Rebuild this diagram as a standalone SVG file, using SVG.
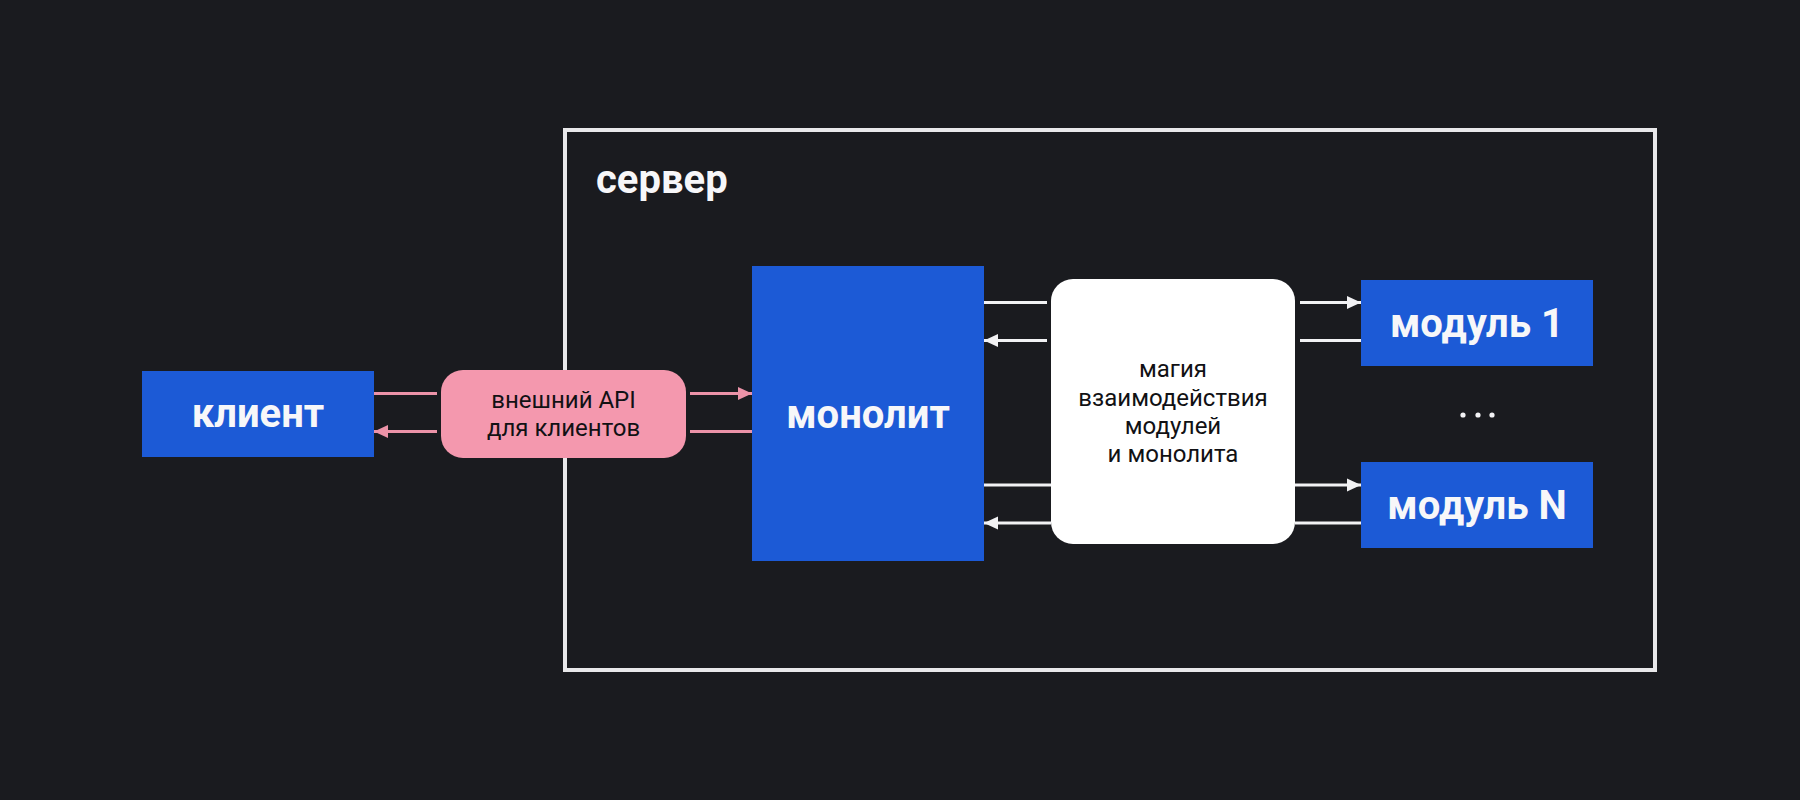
<svg xmlns="http://www.w3.org/2000/svg" width="1800" height="800" viewBox="0 0 1800 800">
  <style>
    .bg { fill: #1a1b1f; }
    .blue { fill: #1c5ad6; }
    .lbl-bold { font-family: Roboto, "Liberation Sans", sans-serif; font-weight: 700; font-size: 40px; fill: #f7f7f9; text-anchor: middle; }
    .lbl-reg { font-family: Roboto, "Liberation Sans", sans-serif; font-weight: 400; font-size: 24px; fill: #111114; text-anchor: middle; }
    .wline { stroke: #f2f2f4; stroke-width: 3; fill: none; }
    .pline { stroke: #ec93a8; stroke-width: 3; fill: none; }
  </style>
  <defs>
    <marker id="aw" markerUnits="userSpaceOnUse" markerWidth="16" markerHeight="16" viewBox="0 0 16 16" refX="14" refY="8" orient="auto">
      <path d="M0,1.5 L14,8 L0,14.5 Z" fill="#f2f2f4"/>
    </marker>
    <marker id="ap" markerUnits="userSpaceOnUse" markerWidth="16" markerHeight="16" viewBox="0 0 16 16" refX="14" refY="8" orient="auto">
      <path d="M0,1.5 L14,8 L0,14.5 Z" fill="#ec93a8"/>
    </marker>
  </defs>
  <rect class="bg" x="0" y="0" width="1800" height="800"/>

  <g id="server">
    <rect x="565" y="130" width="1090" height="540" fill="none" stroke="#e8e8ea" stroke-width="4"/>
    <text x="596" y="193" class="lbl-bold" style="text-anchor:start">сервер</text>
  </g>

  <g id="connectors">
    <line class="pline" x1="374" y1="393.5" x2="437" y2="393.5"/>
    <line class="pline" x1="437" y1="431.5" x2="374" y2="431.5" marker-end="url(#ap)"/>
    <line class="pline" x1="690" y1="393.5" x2="752" y2="393.5" marker-end="url(#ap)"/>
    <line class="pline" x1="752" y1="431.5" x2="690" y2="431.5"/>

    <line class="wline" x1="984" y1="302.5" x2="1047" y2="302.5"/>
    <line class="wline" x1="1047" y1="340.5" x2="984" y2="340.5" marker-end="url(#aw)"/>
    <line class="wline" x1="984" y1="485" x2="1051" y2="485"/>
    <line class="wline" x1="1051" y1="523" x2="984" y2="523" marker-end="url(#aw)"/>

    <line class="wline" x1="1300" y1="302.5" x2="1361" y2="302.5" marker-end="url(#aw)"/>
    <line class="wline" x1="1361" y1="340.5" x2="1300" y2="340.5"/>
    <line class="wline" x1="1295" y1="485" x2="1361" y2="485" marker-end="url(#aw)"/>
    <line class="wline" x1="1361" y1="523" x2="1295" y2="523"/>
  </g>

  <g id="client">
    <rect class="blue" x="142" y="371" width="232" height="86"/>
    <text x="258" y="427" class="lbl-bold">клиент</text>
  </g>

  <g id="api">
    <rect x="441" y="370" width="245" height="88" rx="22" ry="22" fill="#f498ae"/>
    <text x="563.5" y="407.5" class="lbl-reg">внешний API</text>
    <text x="563.5" y="436" class="lbl-reg">для клиентов</text>
  </g>

  <g id="monolith">
    <rect class="blue" x="752" y="266" width="232" height="295"/>
    <text x="868" y="428" class="lbl-bold">монолит</text>
  </g>

  <g id="magic">
    <rect x="1051" y="279" width="244" height="265" rx="22" ry="22" fill="#ffffff"/>
    <text x="1173" y="377" class="lbl-reg">магия</text>
    <text x="1173" y="405.5" class="lbl-reg">взаимодействия</text>
    <text x="1173" y="434" class="lbl-reg">модулей</text>
    <text x="1173" y="462" class="lbl-reg">и монолита</text>
  </g>

  <g id="module1">
    <rect class="blue" x="1361" y="280" width="232" height="86"/>
    <text x="1477" y="337" class="lbl-bold">модуль 1</text>
  </g>

  <g id="dots">
    <circle cx="1463" cy="415" r="2.6" fill="#f2f2f4"/>
    <circle cx="1478" cy="415" r="2.6" fill="#f2f2f4"/>
    <circle cx="1492" cy="415" r="2.6" fill="#f2f2f4"/>
  </g>

  <g id="moduleN">
    <rect class="blue" x="1361" y="462" width="232" height="86"/>
    <text x="1477" y="519" class="lbl-bold">модуль N</text>
  </g>
</svg>
